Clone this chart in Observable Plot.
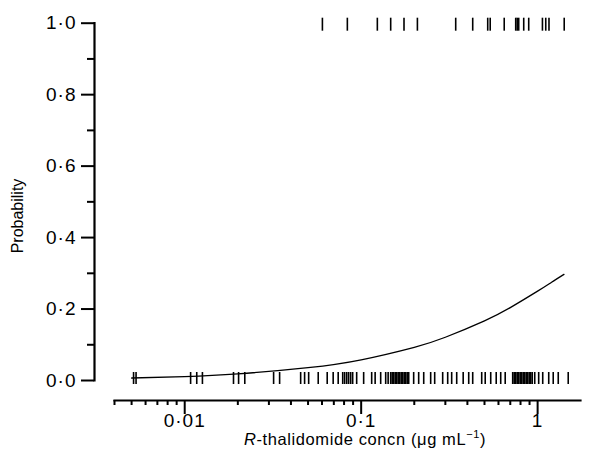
<!DOCTYPE html>
<html><head><meta charset="utf-8">
<script src="https://cdn.jsdelivr.net/npm/d3@7"></script>
<script src="https://cdn.jsdelivr.net/npm/@observablehq/plot@0.6"></script>
<style>
body{margin:0;background:#fff}
svg{display:block}
g[aria-label="y-axis tick label"] text, g[aria-label="x-axis tick label"] text{letter-spacing:1px}
</style>
</head><body><div id="chart"></div>
<script>
// Axis ticks
const yTicks = [0, 0.2, 0.4, 0.6, 0.8, 1.0];
const yTickLabels = ["0·0", "0·2", "0·4", "0·6", "0·8", "1·0"];
const yMinorTicks = [0.1, 0.3, 0.5, 0.7, 0.9];
const xTicks = [0.01, 0.1, 1];
const xTickLabels = ["0·01", "0·1", "1"];
const xMinorTicks = [0.004, 0.005, 0.006, 0.007, 0.008, 0.009,
  0.02, 0.03, 0.04, 0.05, 0.06, 0.07, 0.08, 0.09,
  0.2, 0.3, 0.4, 0.5, 0.6, 0.7, 0.8, 0.9];

// Fitted logistic curve
const curveConc = [0.005, 0.01, 0.02, 0.05, 0.1, 0.2, 0.3, 0.5, 0.7, 1.0, 1.2, 1.41];
const curveProb = [0.007, 0.011, 0.0185, 0.036, 0.058, 0.093, 0.121, 0.167, 0.204, 0.25, 0.275, 0.297];

// Observed outcomes (rug): response = 1
const respConc = [0.0603, 0.0835, 0.1235, 0.147, 0.1749, 0.2083, 0.3434, 0.4287, 0.5214, 0.5387,
  0.6468, 0.7514, 0.7662, 0.7814, 0.8342, 0.8904, 1.065, 1.112, 1.160, 1.415];
// no response = 0
const nonRespConc = [0.00513, 0.0053, 0.0108, 0.0117, 0.0126, 0.0189, 0.0202, 0.0219, 0.0319, 0.0345,
  0.0454, 0.0478, 0.0504, 0.0571, 0.0642, 0.0694, 0.0741, 0.0786, 0.0806, 0.0828, 0.0849, 0.0872, 0.0895,
  0.0943, 0.1033, 0.1147, 0.120, 0.129, 0.1377, 0.1422,
  0.147, 0.1499, 0.1528, 0.1559, 0.159, 0.1621, 0.1653, 0.1686, 0.172, 0.1754, 0.1788, 0.1824, 0.186,
  0.1984, 0.2118, 0.2262, 0.2477, 0.261, 0.2897, 0.3093, 0.3258, 0.3479, 0.3786,
  0.4069, 0.4287, 0.4821, 0.5047, 0.5423, 0.5826, 0.6178, 0.6551,
  0.7224, 0.7367, 0.7514, 0.7662, 0.7814, 0.7969, 0.8126, 0.8287, 0.8451, 0.8618, 0.8788, 0.8962, 0.914, 0.932,
  0.963, 1.014, 1.069, 1.156, 1.226, 1.309, 1.491];

const curve = curveConc.map((c, i) => ({c, p: curveProb[i]}));
const ones = respConc.map(c => ({c, o: 1}));
const zeros = nonRespConc.map(c => ({c, o: 0}));

const plot = Plot.plot({
  width: 592, height: 465,
  marginLeft: 114, marginRight: 12, marginTop: 22.7, marginBottom: 85,
  x: {type: "log", domain: [0.004, 1.75]},
  y: {domain: [0, 1]},
  style: {fontFamily: "'Liberation Sans', Arial, sans-serif", fontSize: "19px", color: "#000", background: "#fff"},
  marks: [
    Plot.frame({anchor: "left", dx: -20, strokeWidth: 2.2}),
    Plot.frame({anchor: "bottom", dy: 20, strokeWidth: 2.2}),
    Plot.axisY(yTicks, {anchor: "left", tickSize: 13, tickPadding: 5, dx: -20, strokeWidth: 2,
      tickFormat: d => yTickLabels[yTicks.indexOf(d)], label: null}),
    Plot.axisY(yMinorTicks, {anchor: "left", tickSize: 7, dx: -20, strokeWidth: 2, text: null, label: null}),
    Plot.axisX(xTicks, {anchor: "bottom", tickSize: 14, tickPadding: -1, dy: 20, strokeWidth: 2,
      tickFormat: d => xTickLabels[xTicks.indexOf(d)], label: null}),
    Plot.axisX(xMinorTicks, {anchor: "bottom", tickSize: 5, dy: 20, strokeWidth: 2, text: null, label: null}),
    Plot.ruleX(zeros, {x: "c", y1: "o", y2: "o", insetTop: -8, insetBottom: -4, strokeWidth: 1.6, stroke: "#000"}),
    Plot.ruleX(ones, {x: "c", y1: "o", y2: "o", insetTop: -5, insetBottom: -8, strokeWidth: 1.6, stroke: "#000"}),
    Plot.line(curve, {x: "c", y: "p", curve: "natural", stroke: "#000", strokeWidth: 1.3})
  ]
});

const svg = d3.select(plot);
svg.append("text")
  .attr("transform", "translate(23,216) rotate(-90)")
  .attr("text-anchor", "middle")
  .attr("font-size", 16)
  .attr("fill", "#000")
  .text("Probability");

const xt = svg.append("text")
  .attr("x", 365).attr("y", 445)
  .attr("text-anchor", "middle")
  .attr("font-size", 16.5)
  .attr("letter-spacing", "0.6px")
  .attr("fill", "#000");
xt.append("tspan").attr("font-style", "italic").text("R");
xt.append("tspan").text("-thalidomide concn (μg mL");
xt.append("tspan").attr("dy", -7).attr("font-size", 11).text("−1");
xt.append("tspan").attr("dy", 7).text(")");

document.getElementById("chart").appendChild(plot);
</script>
</body></html>
